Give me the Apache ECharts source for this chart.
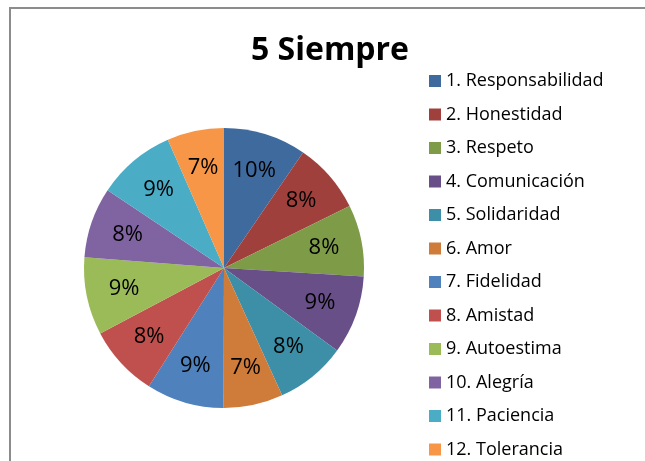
<!DOCTYPE html>
<html>
<head>
<meta charset="utf-8">
<script src="https://cdn.jsdelivr.net/npm/echarts@6/dist/echarts.min.js"></script>
<style>
  html, body { margin: 0; padding: 0; background: #fff; }
  #main { width: 645px; height: 461px; }
</style>
</head>
<body>
<div id="main"></div>
<script>
var categories = ['1. Responsabilidad', '2. Honestidad', '3. Respeto', '4. Comunicación',
  '5. Solidaridad', '6. Amor', '7. Fidelidad', '8. Amistad', '9. Autoestima',
  '10. Alegría', '11. Paciencia', '12. Tolerancia'];
var values = [9.6, 8.2, 8.3, 9.1, 8.2, 6.9, 9.0, 8.3, 9.0, 8.2, 9.1, 6.6];
var colors = ['#3F6A9E', '#A0403D', '#7E9B48', '#684F87', '#3C8FA6', '#CF7B39',
  '#4F81BD', '#C0504D', '#9BBB59', '#8064A2', '#4BACC6', '#F79646'];

var chart = echarts.init(document.getElementById('main'));

var pieData = categories.map(function (name, i) {
  return { name: name, value: values[i], itemStyle: { color: colors[i] } };
});
var labelData = categories.map(function (name, i) {
  return { name: name, value: values[i] };
});

var option = {
  animation: false,
  backgroundColor: '#fff',
  graphic: [{
    type: 'rect',
    shape: { x: 10, y: 8, width: 700, height: 500 },
    style: { fill: 'none', stroke: '#8c8c8c', lineWidth: 2 },
    silent: true
  }],
  title: {
    text: '5 Siempre',
    left: 325,
    top: 30,
    textAlign: 'center',
    textStyle: { fontFamily: 'Open Sans', fontWeight: 'bold', fontSize: 32, color: '#000' }
  },
  legend: {
    orient: 'vertical',
    left: 424,
    top: 66,
    height: 420,
    itemWidth: 12,
    itemHeight: 12,
    itemGap: 13.5,
    icon: 'rect',
    data: categories,
    selectedMode: false,
    textStyle: { fontFamily: 'Open Sans', fontSize: 18, lineHeight: 20, color: '#000' }
  },
  series: [
    {
      name: 'Siempre',
      type: 'pie',
      radius: [0, 140],
      center: [224, 268],
      startAngle: 90,
      clockwise: true,
      data: pieData,
      label: { show: false },
      labelLine: { show: false },
      emphasis: { disabled: true }
    },
    {
      name: 'etiquetas',
      type: 'pie',
      radius: [0, 198],
      center: [224, 268],
      startAngle: 90,
      clockwise: true,
      silent: true,
      legendHoverLink: false,
      data: labelData,
      itemStyle: { color: 'rgba(0,0,0,0)' },
      label: {
        show: true,
        position: 'inside',
        fontFamily: 'Open Sans',
        fontSize: 22,
        color: '#000',
        formatter: function (p) { return Math.round(p.percent) + '%'; }
      },
      labelLine: { show: false },
      emphasis: { disabled: true }
    }
  ]
};
chart.setOption(option);
</script>
</body>
</html>
